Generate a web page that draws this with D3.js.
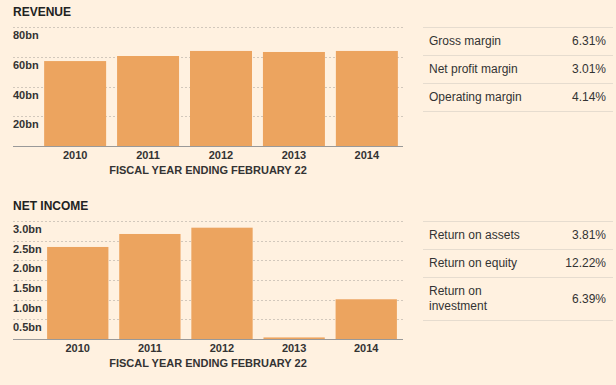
<!DOCTYPE html>
<html>
<head>
<meta charset="utf-8">
<script src="https://cdn.jsdelivr.net/npm/d3@7"></script>
<style>
  body { margin: 0; background: #fff1e0; }
  svg { display: block; }
  text { font-family: "Liberation Sans", Arial, sans-serif; fill: #333; }
</style>
</head>
<body>
<svg id="chart" width="616" height="385"></svg>
<script>
// data
var years = ['2010', '2011', '2012', '2013', '2014'];
var revenue = [57.1, 60.5, 63.9, 63.2, 63.9];
var revenueTicks = [20, 40, 60, 80];
var netIncome = [2.34, 2.67, 2.83, 0.04, 1.01];
var incomeTicks = [0.5, 1.0, 1.5, 2.0, 2.5, 3.0];
var marginLabels = ['Gross margin', 'Net profit margin', 'Operating margin'];
var marginValues = ['6.31%', '3.01%', '4.14%'];
var returnLabels = ['Return on assets', 'Return on equity', 'Return on\ninvestment'];
var returnValues = ['3.81%', '12.22%', '6.39%'];
var axisTitle = 'FISCAL YEAR ENDING FEBRUARY 22';

var svg = d3.select('#chart');
var barColor = '#eca45f';

function barChart(g, title, values, ticks, yMax, fmt, top, bottom, xRange) {
    var x = d3.scaleBand()
        .domain(years)
        .range(xRange)
        .paddingInner(0.15)
        .paddingOuter(0.05);
    var y = d3.scaleLinear()
        .domain([0, yMax])
        .range([bottom, top]);

    g.append('text')
        .attr('x', 13)
        .attr('y', top - 11)
        .style('font-size', '12px')
        .style('font-weight', 'bold')
        .style('fill', '#222')
        .text(title);

    // gridlines + labels below each line
    var tk = g.selectAll('.tick').data(ticks).enter().append('g');
    tk.append('line')
        .attr('x1', 13).attr('x2', 403)
        .attr('y1', function (d) { return Math.round(y(d)) + 0.5; })
        .attr('y2', function (d) { return Math.round(y(d)) + 0.5; })
        .style('stroke', '#d2c8bc')
        .style('stroke-dasharray', '2,2');
    tk.append('text')
        .attr('x', 13)
        .attr('y', function (d) { return y(d) + 12; })
        .style('font-size', '11px')
        .style('font-weight', 'bold')
        .text(fmt);

    g.selectAll('.bar')
        .data(values)
        .enter()
        .append('rect')
        .attr('x', function (d, i) { return x(years[i]); })
        .attr('width', x.bandwidth())
        .attr('y', function (d) { return y(d); })
        .attr('height', function (d) { return y(0) - y(d); })
        .style('fill', barColor);

    g.append('line')
        .attr('x1', 13).attr('x2', 403)
        .attr('y1', bottom + 0.5).attr('y2', bottom + 0.5)
        .style('stroke', '#999');

    g.selectAll('.yr')
        .data(years)
        .enter()
        .append('text')
        .attr('x', function (d) { return x(d) + x.bandwidth() / 2; })
        .attr('y', bottom + 13)
        .attr('text-anchor', 'middle')
        .style('font-size', '11px')
        .style('font-weight', 'bold')
        .text(function (d) { return d; });

    g.append('text')
        .attr('x', 208)
        .attr('y', bottom + 28)
        .attr('text-anchor', 'middle')
        .style('font-size', '11px')
        .style('font-weight', 'bold')
        .text(axisTitle);
}

function table(g, labels, vals, rowTops) {
    var lines = g.selectAll('.ln').data(rowTops).enter().append('line')
        .attr('x1', 423).attr('x2', 613)
        .attr('y1', function (d) { return d + 0.5; })
        .attr('y2', function (d) { return d + 0.5; })
        .style('stroke', '#e6dccf');
    labels.forEach(function (lab, i) {
        var mid = (rowTops[i] + rowTops[i + 1]) / 2;
        var parts = lab.split('\n');
        var t = g.append('text')
            .attr('x', 429)
            .style('font-size', '12px');
        parts.forEach(function (p, j) {
            t.append('tspan')
                .attr('x', 429)
                .attr('y', mid + 4 + (j - (parts.length - 1) / 2) * 15)
                .text(p);
        });
        g.append('text')
            .attr('x', 606)
            .attr('y', mid + 4)
            .attr('text-anchor', 'end')
            .style('font-size', '12px')
            .text(vals[i]);
    });
}

barChart(svg.append('g'), 'REVENUE', revenue, revenueTicks, 80,
    function (d) { return d + 'bn'; }, 27, 146, [40.5, 401.5]);
barChart(svg.append('g'), 'NET INCOME', netIncome, incomeTicks, 3.0,
    function (d) { return d.toFixed(1) + 'bn'; }, 221, 339, [43.5, 400.5]);

table(svg.append('g'), marginLabels, marginValues, [27, 55, 83, 111]);
table(svg.append('g'), returnLabels, returnValues, [221, 249, 277, 320]);
</script>
</body>
</html>
